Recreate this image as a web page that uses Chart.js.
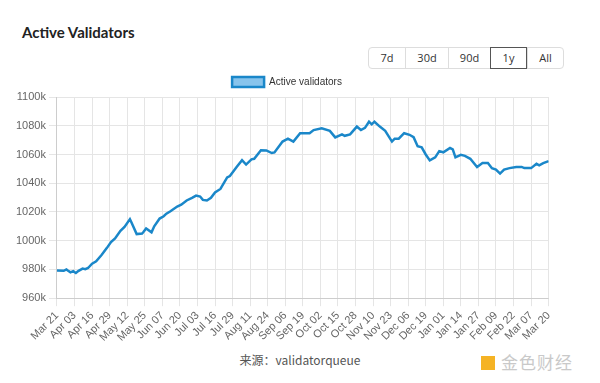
<!DOCTYPE html>
<html><head><meta charset="utf-8">
<script src="https://cdn.jsdelivr.net/npm/chart.js@4/dist/chart.umd.min.js"></script>
<style>
html,body{margin:0;padding:0;background:#fff;width:600px;height:383px;overflow:hidden;font-family:"Liberation Sans",Arial,sans-serif;}
#title{position:absolute;left:22px;top:23px;font-family:"Lato","Open Sans",sans-serif;font-weight:700;font-size:15px;color:#222;}
#btns{position:absolute;left:368px;top:47px;display:flex;border:1px solid #ddd;border-radius:4px;height:20px;}
#btns div{font-family:"Open Sans","Liberation Sans",sans-serif;font-size:11px;color:#333;line-height:20px;text-align:center;border-left:1px solid #ddd;}
#btns div:first-child{border-left:none;}
#btns .sel{border:1px solid #555;margin:-1px 0;line-height:20px;}
#wrap{position:absolute;left:13px;top:67px;width:548px;height:280px;}
#src{position:absolute;left:0;width:600px;top:351px;text-align:center;font-size:12px;color:#555;font-family:"Noto Sans CJK SC","Liberation Sans",sans-serif;}
#wm{position:absolute;left:481px;top:349px;font-family:"Noto Sans CJK SC",sans-serif;font-size:17px;color:#c9c9c9;letter-spacing:1px;}
#wm span{display:inline-block;width:14px;height:14px;background:#f5b324;vertical-align:-1px;margin-right:6px;}
</style></head>
<body>
<div id="title">Active Validators</div>
<div id="btns"><div style="width:36px">7d</div><div style="width:42px">30d</div><div style="width:41px">90d</div><div class="sel" style="width:35px">1y</div><div style="width:35px">All</div></div>
<div id="wrap"><canvas id="c"></canvas></div>
<div id="src">来源：validatorqueue</div>
<div id="wm"><span></span>金色财经</div>
<script>
const tickLabels = ["Mar 21","Apr 03","Apr 16","Apr 29","May 12","May 25","Jun 07","Jun 20","Jul 03","Jul 16","Jul 29","Aug 11","Aug 24","Sep 06","Sep 19","Oct 02","Oct 15","Oct 28","Nov 10","Nov 23","Dec 06","Dec 19","Jan 01","Jan 14","Jan 27","Feb 09","Feb 22","Mar 07","Mar 20"];
const dayIndex = [0,5,7,8,10,12,14,16,19,21,23,26,29,33,37,40,43,47,50,54,55,59,63,64,66,70,72,76,79,81,84,89,92,96,100,103,106,108,111,114,117,121,126,128,133,137,140,144,146,151,155,159,161,167,171,175,180,187,190,196,202,206,211,213,217,222,225,228,231,233,235,239,243,248,250,253,257,261,264,267,270,273,276,280,283,286,291,293,295,299,302,306,311,315,319,322,325,328,331,335,340,344,346,351,355,357,360,364];
const validatorsK = [979.2,979,980,979.3,978,978.8,977.5,979,980.6,980.2,981,984,985.6,990,995,999,1001.6,1006.9,1009.6,1015,1013,1004.6,1005,1006,1008.5,1005.8,1010,1015.4,1017,1018.8,1020.5,1023.8,1025,1028,1029.8,1031.4,1030.7,1028.4,1028,1029.8,1033.6,1036,1044,1045,1051.3,1056,1053,1056.6,1057,1063,1062.8,1061,1061.4,1069,1071,1069,1074.8,1074.8,1077,1078.2,1076.4,1071.9,1074,1073,1074,1079.4,1077,1078.5,1082.8,1081,1082.8,1079.4,1076.5,1069,1071,1071,1074.8,1073.7,1072,1065.7,1065,1060,1055.9,1058,1062.3,1061.5,1064.5,1063.6,1058,1059.7,1059,1057,1051.3,1054,1054,1050.4,1049.5,1046.7,1049.5,1050.5,1051.3,1051.3,1050.5,1050.5,1053.5,1052.5,1054,1055.4];

const pts = dayIndex.map((d,i)=>({x:d, y:validatorsK[i]*1000}));
Chart.defaults.font.family = '"Liberation Sans", Arial, sans-serif';
Chart.defaults.color = '#666';
new Chart(document.getElementById('c'), {
  type:'line',
  data:{datasets:[{label:'Active validators', data:pts, borderColor:'#1a87c9', backgroundColor:'#88c4ec', borderWidth:2.5, pointRadius:0, fill:false, tension:0}]},
  options:{
    responsive:true, maintainAspectRatio:false, animation:false,
    layout:{padding:{left:0,right:0,top:0,bottom:0}},
    plugins:{legend:{labels:{boxWidth:32,boxHeight:10,padding:10,font:{size:10},color:'#333'}}, tooltip:{enabled:false}},
    scales:{
      x:{type:'linear', min:0, max:364,
         ticks:{stepSize:13, autoSkip:false, maxRotation:45, minRotation:45, font:{size:11}, color:'#666',
                callback:(v)=>{const i=Math.round(v/13); return (v%13===0)?tickLabels[i]:null;}},
         grid:{color:'#e5e5e5'}},
      y:{min:960000, max:1100000,
         ticks:{stepSize:20000, font:{size:11}, color:'#666', callback:(v)=>(v/1000)+'k'},
         grid:{color:'#e5e5e5'}}
    }
  }
});
</script>
</body></html>
